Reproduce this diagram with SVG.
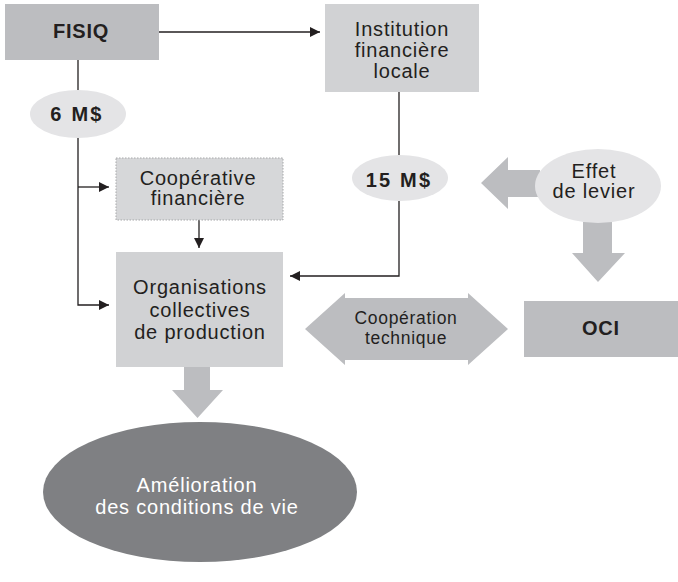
<svg xmlns="http://www.w3.org/2000/svg" width="678" height="582" viewBox="0 0 678 582">
<defs>
<marker id="ah" viewBox="0 0 10 10" refX="10" refY="5" markerWidth="10" markerHeight="10" markerUnits="userSpaceOnUse" orient="auto">
<path d="M0,0 L10,5 L0,10 Z" fill="#231f20"/>
</marker>
<style>
text{font-family:"Liberation Sans",Arial,Helvetica,sans-serif;fill:#231f20;text-anchor:middle;font-size:20px;letter-spacing:0.8px}
.b{font-weight:bold}
.m{letter-spacing:2.2px}
.t18{font-size:17.5px;letter-spacing:0.7px}
.dark{fill:#bcbdc0}
.light{fill:#d1d2d4}
.oval{fill:#e4e4e6}
.blk{fill:#bcbdc0}
.ln{fill:none;stroke:#231f20;stroke-width:1.3}
</style>
</defs>
<g id="connectors">
<line class="ln" x1="159" y1="32" x2="320" y2="32" marker-end="url(#ah)"/>
<line class="ln" x1="78" y1="60" x2="78" y2="90"/>
<polyline class="ln" points="78,138 78,305 109,305" marker-end="url(#ah)"/>
<line class="ln" x1="78" y1="187" x2="109" y2="187" marker-end="url(#ah)"/>
<line class="ln" x1="199" y1="220" x2="199" y2="248" marker-end="url(#ah)"/>
<line class="ln" x1="399" y1="92" x2="399" y2="155"/>
<polyline class="ln" points="399,201 399,276 290,276" marker-end="url(#ah)"/>
<path class="blk" d="M540,170 L508,170 L508,157 L481,183 L508,209 L508,197 L540,197 Z"/>
<path class="blk" d="M583,222 L612,222 L612,253 L625,253 L598,282 L572,253 L583,253 Z"/>
<path class="blk" d="M184,367 L210,367 L210,390 L223,390 L197.5,418 L172,390 L184,390 Z"/>
<path class="blk" d="M305,329 L345,293 L345,298 L468,298 L468,293 L508,329 L468,365 L468,360 L345,360 L345,365 Z"/>
<text class="t18" x="406" y="324">Coopération</text>
<text class="t18" x="406" y="344">technique</text>
</g>
<g id="fisiq">
<rect class="dark" x="5" y="4" width="154" height="56"/>
<text class="b" x="81" y="38">FISIQ</text>
</g>
<g id="institution">
<rect class="light" x="325" y="4" width="154" height="88"/>
<text x="402" y="36">Institution</text>
<text x="402" y="57">financière</text>
<text x="402" y="78">locale</text>
</g>
<g id="m6">
<ellipse class="oval" cx="78" cy="114" rx="48" ry="24"/>
<text class="b m" x="77" y="121">6 M$</text>
</g>
<g id="m15">
<ellipse class="oval" cx="400" cy="178" rx="48" ry="23"/>
<text class="b m" x="399" y="187">15 M$</text>
</g>
<g id="levier">
<ellipse class="oval" cx="598" cy="186" rx="63" ry="37"/>
<text x="594" y="178">Effet</text>
<text x="594" y="198">de levier</text>
</g>
<g id="cooperative">
<rect x="116" y="158" width="167" height="62" fill="#d6d7d9" stroke="#a7a8aa" stroke-width="1" stroke-dasharray="1.5,1.5"/>
<text x="198" y="185">Coopérative</text>
<text x="198" y="205">financière</text>
</g>
<g id="organisations">
<rect class="light" x="116" y="252" width="167" height="115"/>
<text x="200" y="294">Organisations</text>
<text x="200" y="317">collectives</text>
<text x="200" y="339">de production</text>
</g>
<g id="oci">
<rect class="dark" x="524" y="301" width="154" height="56"/>
<text class="b" x="601" y="335">OCI</text>
</g>
<g id="amelioration">
<ellipse cx="200" cy="492" rx="157" ry="70" fill="#7f8083"/>
<text x="197" y="492" style="fill:#ffffff">Amélioration</text>
<text x="197" y="514" style="fill:#ffffff">des conditions de vie</text>
</g>
</svg>
